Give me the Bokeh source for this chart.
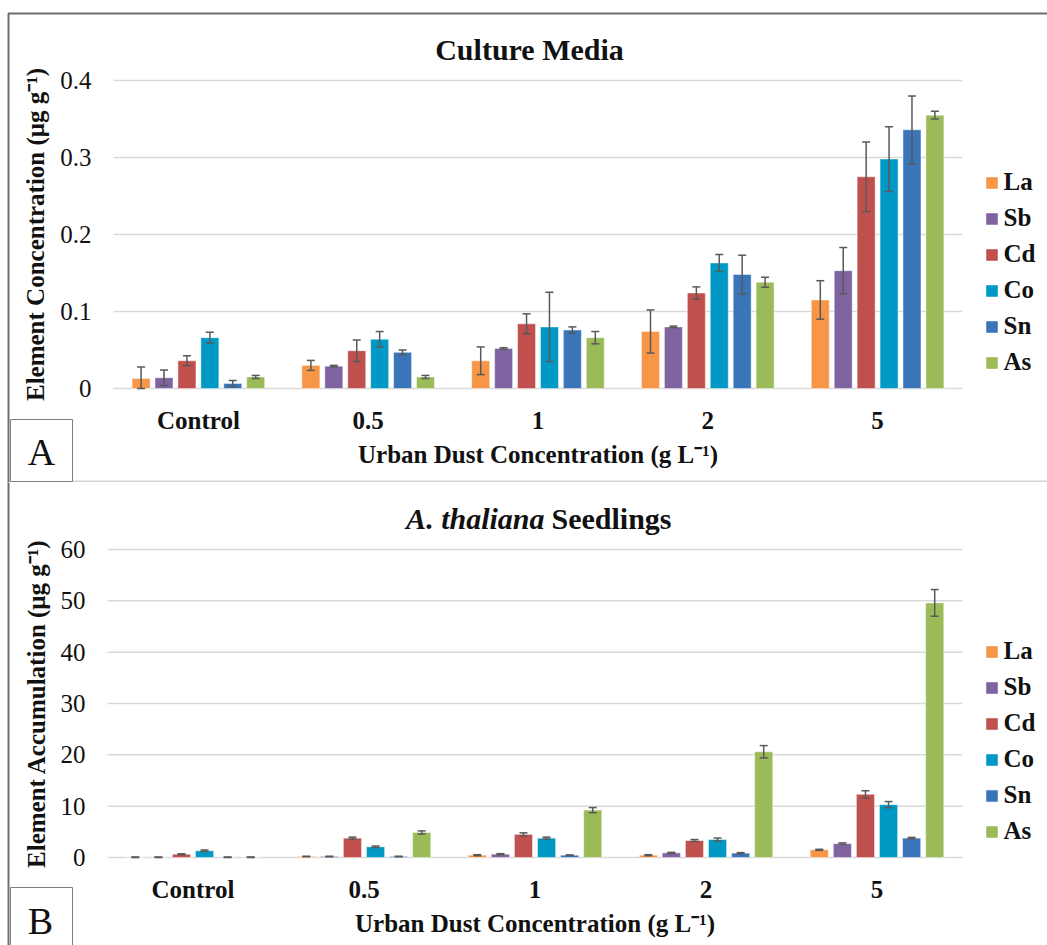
from bokeh.plotting import figure
from bokeh.models import (ColumnDataSource, Range1d, Whisker, TeeHead, LinearAxis,
                          Legend, LegendItem, Label, BoxAnnotation, FixedTicker)
from bokeh.layouts import column
from bokeh.embed import file_html
from bokeh.resources import INLINE

doses = ["Control", "0.5", "1", "2", "5"]
elements = ["La", "Sb", "Cd", "Co", "Sn", "As"]
element_colors = ["#F79646", "#8064A2", "#C0504D", "#0099C6", "#3A74B9", "#9BBB59"]

# Culture media concentration (ug g-1), mean and SD per element
media_La = [0.013, 0.030, 0.036, 0.074, 0.115]
media_Sb = [0.014, 0.029, 0.052, 0.080, 0.153]
media_Cd = [0.036, 0.049, 0.084, 0.124, 0.275]
media_Co = [0.066, 0.064, 0.080, 0.163, 0.298]
media_Sn = [0.0065, 0.047, 0.076, 0.148, 0.336]
media_As = [0.015, 0.015, 0.066, 0.138, 0.355]
media_La_sd = [0.015, 0.0065, 0.018, 0.028, 0.025]
media_Sb_sd = [0.010, 0.001, 0.001, 0.001, 0.030]
media_Cd_sd = [0.0065, 0.014, 0.013, 0.008, 0.045]
media_Co_sd = [0.007, 0.010, 0.045, 0.011, 0.042]
media_Sn_sd = [0.004, 0.003, 0.004, 0.025, 0.044]
media_As_sd = [0.002, 0.002, 0.008, 0.0065, 0.005]

# Seedling accumulation (ug g-1), mean and SD per element
seed_La = [0.05, 0.2, 0.45, 0.45, 1.5]
seed_Sb = [0.05, 0.2, 0.65, 0.9, 2.7]
seed_Cd = [0.65, 3.77, 4.5, 3.3, 12.3]
seed_Co = [1.3, 2.08, 3.77, 3.5, 10.3]
seed_Sn = [0.05, 0.2, 0.45, 0.85, 3.77]
seed_As = [0.05, 4.88, 9.23, 20.6, 49.6]
seed_La_sd = [0.03, 0.05, 0.1, 0.1, 0.1]
seed_Sb_sd = [0.03, 0.05, 0.1, 0.1, 0.15]
seed_Cd_sd = [0.1, 0.2, 0.3, 0.2, 0.7]
seed_Co_sd = [0.15, 0.15, 0.2, 0.3, 0.6]
seed_Sn_sd = [0.03, 0.05, 0.05, 0.1, 0.15]
seed_As_sd = [0.03, 0.3, 0.5, 1.2, 2.6]

media_ticks = [0, 0.1, 0.2, 0.3, 0.4]
seed_ticks = [0, 10, 20, 30, 40, 50, 60]

SERIF = "Liberation Serif"
TITLE_FONT = "Times New Roman"
LEGEND_FONT = "Liberation Serif, serif"
INK = "#111111"
W = 1047
XLABEL = "Urban Dust Concentration (g L\u207b\u00b9)"
BAR_STEP = 0.135    # spacing between neighbouring bars, in group units
BAR_WIDTH = 0.106


def build_panel(height, plot_box, means, sds, ticks, ylabel, title_y, title_parts,
                letter, letter_box, letter_center, border_top, separator, legend_top):
    # plot_box: pixel edges of the plotting area inside this canvas
    left, right, top, bottom = plot_box
    ymin, ymax = ticks[0], ticks[-1]
    n = len(doses)
    kx = n / (right - left)
    ky = (ymax - ymin) / (bottom - top)

    def dx(px):
        return (px - left) * kx

    def dy(py):
        return ymin + (bottom - py) * ky

    p = figure(width=W, height=height, title=None,
               x_range=Range1d(dx(0), dx(W)), y_range=Range1d(dy(height), dy(0)),
               x_axis_location=None, y_axis_location=None,
               output_backend="svg", toolbar_location=None, min_border=0)
    p.outline_line_color = None
    p.background_fill_color = "white"
    p.border_fill_color = "white"
    p.grid.visible = False

    # horizontal gridlines across the plotting area only
    p.segment(x0=[0] * len(ticks), x1=[n] * len(ticks), y0=ticks, y1=ticks,
              line_color="#D9D9D9", line_width=1.5)

    data = {"dose": doses}
    for i, el in enumerate(elements):
        off = (i - (len(elements) - 1) / 2) * BAR_STEP
        data[el + "_x"] = [k + 0.5 + off for k in range(n)]
        data[el] = means[el]
        data[el + "_lo"] = [max(m - s, 0) for m, s in zip(means[el], sds[el])]
        data[el + "_hi"] = [m + s for m, s in zip(means[el], sds[el])]
    src = ColumnDataSource(data)

    items = []
    for el, col in zip(elements, element_colors):
        r = p.vbar(x=el + "_x", top=el, bottom=0, width=BAR_WIDTH, source=src,
                   fill_color=col, line_color="white", line_alpha=0.45, line_width=1)
        p.add_layout(Whisker(base=el + "_x", upper=el + "_hi", lower=el + "_lo",
                             source=src, line_color="#595959", line_width=1.5,
                             level="annotation",
                             upper_head=TeeHead(size=8, line_color="#595959", line_width=1.5),
                             lower_head=TeeHead(size=8, line_color="#595959", line_width=1.5)))
        items.append(LegendItem(label=el, renderers=[r]))

    # axes pinned to the plotting area's left and bottom edges
    yax = LinearAxis(fixed_location=0, bounds=(ymin, ymax),
                     ticker=FixedTicker(ticks=ticks),
                     major_label_overrides={t: f"{t:g}" for t in ticks},
                     axis_label=ylabel)
    xax = LinearAxis(fixed_location=ymin, bounds=(0, n),
                     ticker=FixedTicker(ticks=[k + 0.5 for k in range(n)]),
                     major_label_overrides={k + 0.5: d for k, d in enumerate(doses)},
                     axis_label=XLABEL)
    for ax in (xax, yax):
        ax.axis_line_color = None
        ax.major_tick_line_color = None
        ax.minor_tick_line_color = None
        ax.major_tick_out = 0
        ax.major_tick_in = 0
        ax.minor_tick_out = 0
        ax.major_label_text_font = SERIF
        ax.major_label_text_font_size = "25px"
        ax.major_label_text_color = INK
        ax.axis_label_text_font = SERIF
        ax.axis_label_text_font_size = "25px"
        ax.axis_label_text_font_style = "bold"
        ax.axis_label_text_color = INK
    xax.major_label_text_font_style = "bold"
    xax.major_label_standoff = 18
    xax.axis_label_standoff = 4
    yax.major_label_standoff = 22
    yax.axis_label_standoff = 8
    p.add_layout(yax, "left")
    p.add_layout(xax, "below")

    # legend to the right of the bars
    item_h, pitch = 28, 36
    spacing = pitch - item_h
    leg_bottom = legend_top + len(elements) * item_h + (len(elements) - 1) * spacing
    leg = Legend(items=items, location=(983.5, height - leg_bottom),
                 orientation="vertical", padding=0, margin=0, spacing=spacing,
                 glyph_width=15, glyph_height=15, label_standoff=5,
                 label_height=20, label_text_font=LEGEND_FONT,
                 label_text_font_size="25px", label_text_font_style="bold",
                 label_text_color=INK, border_line_color=None,
                 background_fill_alpha=0)
    p.add_layout(leg)

    # title, possibly mixing italic and upright parts
    for txt, style, xpx, align in title_parts:
        p.add_layout(Label(x=dx(xpx), y=dy(title_y), text=txt,
                           text_align=align, text_baseline="middle",
                           text_font=TITLE_FONT, text_font_size="30px",
                           text_font_style=style, text_color=INK))

    # outer border, panel separator, panel letter box
    p.add_layout(BoxAnnotation(left=dx(8), right=dx(W + 50), top=dy(border_top),
                               bottom=dy(height + 50), fill_alpha=0,
                               line_color="#6E6E6E", line_alpha=1, line_width=2))
    if separator is not None:
        p.add_layout(BoxAnnotation(left=dx(72), right=dx(W + 50), top=dy(separator - 1),
                                   bottom=dy(separator + 0.5), fill_color="#D4D4D4",
                                   fill_alpha=1, line_color=None))
    lb = letter_box
    p.add_layout(BoxAnnotation(left=dx(lb[0]), right=dx(lb[1]), top=dy(lb[2]),
                               bottom=dy(lb[3]), fill_alpha=0,
                               line_color="#808080", line_alpha=1, line_width=1))
    p.add_layout(Label(x=dx(letter_center[0]), y=dy(letter_center[1]), text=letter,
                       text_align="center", text_baseline="middle",
                       text_font=SERIF, text_font_size="38px", text_color=INK))
    return p


media_means = dict(zip(elements, [media_La, media_Sb, media_Cd, media_Co, media_Sn, media_As]))
media_sds = dict(zip(elements, [media_La_sd, media_Sb_sd, media_Cd_sd, media_Co_sd, media_Sn_sd, media_As_sd]))
seed_means = dict(zip(elements, [seed_La, seed_Sb, seed_Cd, seed_Co, seed_Sn, seed_As]))
seed_sds = dict(zip(elements, [seed_La_sd, seed_Sb_sd, seed_Cd_sd, seed_Co_sd, seed_Sn_sd, seed_As_sd]))

panel_a = build_panel(
    482, (113, 962, 80, 388), media_means, media_sds, media_ticks,
    "Element Concentration (\u03bcg g\u207b\u00b9)",
    49, [("Culture Media", "bold", 529, "center")],
    "A", (10, 72, 419, 481), (41, 451), 13, 481, 168)

panel_b = build_panel(
    463, (107, 962, 67, 375), seed_means, seed_sds, seed_ticks,
    "Element Accumulation (\u03bcg g\u207b\u00b9)",
    36, [("A. thaliana", "bold italic", 544, "right"),
         ("Seedlings", "bold", 551, "left")],
    "B", (10, 72, 405, 500), (40, 438), -50, None, 155)

layout = column(panel_a, panel_b, spacing=0)
open("out.html", "w").write(file_html(layout, INLINE))
